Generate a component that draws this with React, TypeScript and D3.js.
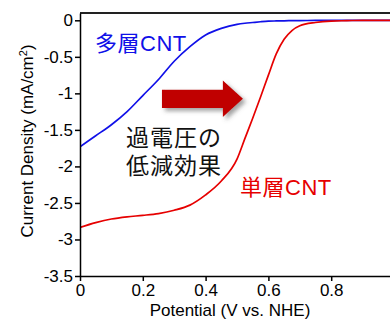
import { useEffect, useRef } from "react";
import { axisBottom, axisLeft, scaleLinear, select, line, curveMonotoneX } from "d3";

// potential (V vs. NHE)
const potential = [0, 0.05, 0.1, 0.15, 0.2, 0.25, 0.3, 0.35, 0.4, 0.45, 0.5, 0.525, 0.55, 0.575, 0.6, 0.625, 0.65, 0.675, 0.7, 0.75, 0.8, 0.85, 0.9, 1.0];
// 多層CNT current density
const multiWall = [-1.73, -1.58, -1.43, -1.25, -1.03, -0.81, -0.56, -0.36, -0.2, -0.11, -0.055, -0.04, -0.03, -0.02, -0.012, -0.009, -0.007, -0.005, -0.004, -0.002, -0.001, 0, 0, 0];
// 単層CNT current density
const singleWall = [-2.835, -2.77, -2.72, -2.69, -2.67, -2.645, -2.6, -2.53, -2.39, -2.2, -1.9, -1.62, -1.34, -1.05, -0.75, -0.46, -0.26, -0.14, -0.075, -0.03, -0.01, -0.005, 0, 0];

const xTicks = [0, 0.2, 0.4, 0.6, 0.8];
const yTicks = [0, -0.5, -1, -1.5, -2, -2.5, -3, -3.5];

// arrow annotation in data units: shaft start, head start, tip / centre, shaft half-height, head half-height
const arrowX = [0.261, 0.455, 0.519];
const arrowY = [-1.075, 0.125, 0.25];

const latin = "'Liberation Sans', Arial, 'Noto Sans CJK JP', sans-serif";

function AxisBottom({ scale, transform }) {
  const ref = useRef(null);
  useEffect(() => {
    if (ref.current) {
      const g = select(ref.current);
      g.call(axisBottom(scale).tickValues(xTicks).tickSize(5).tickSizeOuter(0).tickFormat((d) => String(d)));
      g.select(".domain").attr("stroke", "#000").attr("stroke-width", 1.5);
      g.selectAll(".tick line").attr("stroke", "#000").attr("stroke-width", 1.5);
      g.selectAll(".tick text")
        .attr("font-size", 17)
        .attr("font-family", latin)
        .attr("fill", "#000")
        .attr("dy", "0.71em")
        .attr("y", 8);
    }
  }, [scale]);
  return <g ref={ref} transform={transform} />;
}

function AxisLeft({ scale, transform }) {
  const ref = useRef(null);
  useEffect(() => {
    if (ref.current) {
      const g = select(ref.current);
      g.call(axisLeft(scale).tickValues(yTicks).tickSize(5).tickSizeOuter(0).tickFormat((d) => String(d)));
      g.select(".domain").attr("stroke", "#000").attr("stroke-width", 1.5);
      g.selectAll(".tick line").attr("stroke", "#000").attr("stroke-width", 1.5);
      g.selectAll(".tick text")
        .attr("font-size", 17)
        .attr("font-family", latin)
        .attr("fill", "#000")
        .attr("x", -7);
    }
  }, [scale]);
  return <g ref={ref} transform={transform} />;
}

export default function App() {
  const width = 390;
  const height = 320;
  const left = 80;
  const bottom = 276;
  const top = 13;

  const x = scaleLinear().domain([0, 1]).range([left, left + 314]);
  const y = scaleLinear().domain([-3.5, 0.1]).range([bottom, top]);

  const path = line<number>()
    .x((_, i) => x(potential[i]))
    .y((d) => y(d))
    .curve(curveMonotoneX);

  const [x0, x1, x2] = arrowX.map((v) => x(v));
  const cy = y(arrowY[0]);
  const sh = y(arrowY[0] - arrowY[1]) - cy;
  const hh = y(arrowY[0] - arrowY[2]) - cy;
  const arrowPts = [
    [x0, cy - sh],
    [x1, cy - sh],
    [x1, cy - hh],
    [x2, cy],
    [x1, cy + hh],
    [x1, cy + sh],
    [x0, cy + sh],
  ]
    .map((p) => p.join(","))
    .join(" ");

  return (
    <svg
      width={width}
      height={height}
      style={{ position: "absolute", left: 0, top: 0, background: "#fff" }}
    >
      <defs>
        <filter id="shadow" x="-20%" y="-30%" width="150%" height="170%">
          <feDropShadow dx="3" dy="3" stdDeviation="2" floodColor="#555" floodOpacity="0.55" />
        </filter>
        <clipPath id="plot">
          <rect x={left} y={top} width={width - left} height={bottom - top} />
        </clipPath>
      </defs>
      <line x1={left} x2={width} y1={top} y2={top} stroke="#222" strokeWidth={2} />
      <g clipPath="url(#plot)" fill="none" strokeWidth={1.7}>
        <path d={path(multiWall) ?? ""} stroke="#1010e8" />
        <path d={path(singleWall) ?? ""} stroke="#e60000" />
      </g>
      <AxisLeft scale={y} transform={`translate(${left},0)`} />
      <AxisBottom scale={x} transform={`translate(0,${bottom})`} />
      <polygon points={arrowPts} fill="#c00000" filter="url(#shadow)" />
      <text x={95} y={51} fontSize={22} letterSpacing={0.5} fontFamily={latin} fill="#1010e8">
        多層CNT
      </text>
      <text x={240} y={195} fontSize={22} letterSpacing={0.5} fontFamily={latin} fill="#e60000">
        単層CNT
      </text>
      <text x={126} y={146} fontSize={23} letterSpacing={1} fontFamily={latin} fill="#111">
        過電圧の
      </text>
      <text x={126} y={174} fontSize={23} letterSpacing={1} fontFamily={latin} fill="#111">
        低減効果
      </text>
      <text
        transform="translate(33,141) rotate(-90)"
        textAnchor="middle"
        fontSize={17}
        fontFamily={latin}
        fill="#000"
      >
        Current Density (mA/cm<tspan dy={-6} fontSize={11}>2</tspan>
        <tspan dy={6}>)</tspan>
      </text>
      <text x={230} y={316} textAnchor="middle" fontSize={17} fontFamily={latin} fill="#000">
        Potential (V vs. NHE)
      </text>
    </svg>
  );
}
